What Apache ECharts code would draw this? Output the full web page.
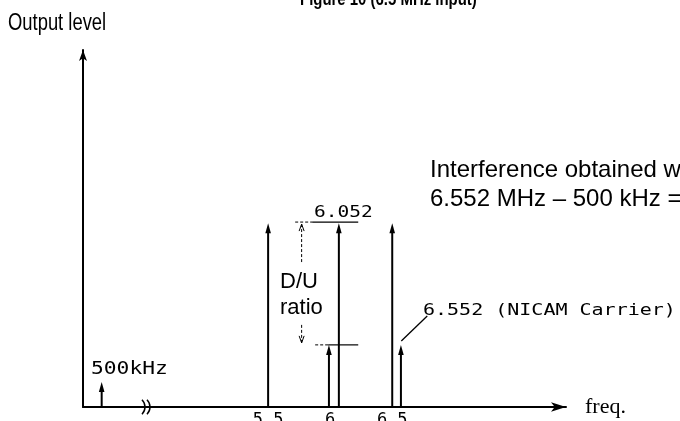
<!DOCTYPE html>
<html><head><meta charset="utf-8">
<script src="https://cdn.jsdelivr.net/npm/echarts@6/dist/echarts.min.js"></script>
<style>html,body{margin:0;padding:0;background:#fff}#c{width:680px;height:421px}</style>
</head><body><div id="c"></div>
<script>
// ---- data ----
const carrierFreqs = [5.5, 6.07, 6.5];      // MHz, tall carriers
const carrierLevels = [51.5, 51.5, 51.5];   // relative output level
const sideFreqs = [5.99, 6.57];             // MHz, small components
const sideLevels = [17.4, 17.4];
const lowFreqs = [0.5];                     // MHz (500 kHz)
const lowLevels = [7];
const tickValues = [5.5, 6, 6.5];           // labelled ticks

// ---- annotation anchors (in data units) ----
const duX = 5.77;
const duGap = [23, 40.6];
const extTopX = [5.718, 5.855, 6.226];
const extBotX = [5.879, 5.984, 6.226];
const topLevel = 51.8;
const leader = [[6.782, 25.5], [6.573, 18.5]];

const chart = echarts.init(document.getElementById('c'), null, {renderer: 'canvas'});
const BLACK = '#000';

function arrowItem(params, api) {
  const x = api.value(0), v = api.value(1);
  const base = api.coord([x, 0]);
  const tip = api.coord([x, v]);
  const hw = 2.8, hh = 10;
  return {type: 'group', children: [
    {type: 'line', shape: {x1: base[0], y1: base[1], x2: tip[0], y2: tip[1] + hh - 1}, style: {stroke: BLACK, lineWidth: 2}},
    {type: 'polygon', shape: {points: [[tip[0], tip[1]], [tip[0] - hw, tip[1] + hh], [tip[0] + hw, tip[1] + hh]]}, style: {fill: BLACK}}
  ]};
}

function annotItem(params, api) {
  const c = (x, y) => api.coord([x, y]);
  const small = sideLevels[0];
  const a = c(duX, topLevel), b = c(duX, duGap[1]), d = c(duX, duGap[0]), e = c(duX, small);
  const dash = {stroke: BLACK, lineWidth: 1, lineDash: [3, 2]};
  const solid = {stroke: BLACK, lineWidth: 1.2};
  const t1 = c(extTopX[0], topLevel), t2 = c(extTopX[1], topLevel), t3 = c(extTopX[2], topLevel);
  const b1 = c(extBotX[0], small), b2 = c(extBotX[1], small), b3 = c(extBotX[2], small);
  const l1 = c(leader[0][0], leader[0][1]), l2 = c(leader[1][0], leader[1][1]);
  return {type: 'group', children: [
    {type: 'line', shape: {x1: a[0], y1: a[1] + 2, x2: b[0], y2: b[1]}, style: dash},
    {type: 'line', shape: {x1: d[0], y1: d[1], x2: e[0], y2: e[1] - 2}, style: dash},
    {type: 'polyline', shape: {points: [[a[0] - 2.5, a[1] + 9], [a[0], a[1] + 2], [a[0] + 2.5, a[1] + 9]]}, style: {stroke: BLACK, lineWidth: 1, fill: null}},
    {type: 'polyline', shape: {points: [[e[0] - 2.5, e[1] - 9], [e[0], e[1] - 2], [e[0] + 2.5, e[1] - 9]]}, style: {stroke: BLACK, lineWidth: 1, fill: null}},
    {type: 'line', shape: {x1: t1[0], y1: t1[1], x2: t2[0], y2: t2[1]}, style: dash},
    {type: 'line', shape: {x1: t2[0], y1: t2[1], x2: t3[0], y2: t3[1]}, style: solid},
    {type: 'line', shape: {x1: b1[0], y1: b1[1], x2: b2[0], y2: b2[1]}, style: dash},
    {type: 'line', shape: {x1: b2[0], y1: b2[1], x2: b3[0], y2: b3[1]}, style: solid},
    {type: 'line', shape: {x1: l1[0], y1: l1[1], x2: l2[0], y2: l2[1]}, style: {stroke: BLACK, lineWidth: 1.3}}
  ]};
}

const SANS = '"Liberation Sans", Arial, Helvetica, sans-serif';
const MONO = '"DejaVu Sans Mono", monospace';
function txt(x, y, text, font, scaleX) {
  return {type: 'text', x: x, y: y, scaleX: scaleX || 1, silent: true,
    style: {text: text, font: font, fill: BLACK, textAlign: 'left', textVerticalAlign: 'middle'}};
}

const option = {
  animation: false,
  backgroundColor: '#fff',
  grid: [
    {left: 83, top: 50, width: 61, bottom: 14, outerBoundsMode: 'none', containLabel: false},
    {left: 144, top: 50, width: 422, bottom: 14, outerBoundsMode: 'none', containLabel: false}
  ],
  xAxis: [
    {gridIndex: 0, type: 'value', min: 0.35, max: 0.84,
      axisLine: {show: true, onZero: false, lineStyle: {color: BLACK, width: 2}},
      axisTick: {show: false}, axisLabel: {show: false}, splitLine: {show: false}},
    {gridIndex: 1, type: 'value', min: 4.5, max: 7.9, interval: 0.5,
      name: 'freq.', nameLocation: 'end', nameGap: 19,
      nameTextStyle: {fontFamily: '"Liberation Serif", "DejaVu Serif", serif', fontSize: 22, color: BLACK, verticalAlign: 'middle'},
      axisLine: {show: true, onZero: false, symbol: ['none', 'arrow'], symbolSize: [7, 15], lineStyle: {color: BLACK, width: 2}},
      axisTick: {show: false}, splitLine: {show: false},
      axisLabel: {show: true, margin: 5, color: BLACK, fontFamily: MONO, fontSize: 17,
        showMinLabel: true, showMaxLabel: false,
        formatter: function (v) { return tickValues.some(t => Math.abs(t - v) < 1e-6) ? String(+v) : ''; }}}
  ],
  yAxis: [
    {gridIndex: 0, type: 'value', min: 0, max: 100,
      axisLine: {show: true, onZero: false, symbol: ['none', 'arrow'], symbolSize: [6, 11], lineStyle: {color: BLACK, width: 2}},
      axisTick: {show: false}, axisLabel: {show: false}, splitLine: {show: false}},
    {gridIndex: 1, type: 'value', min: 0, max: 100, show: false, splitLine: {show: false}}
  ],
  series: [
    {type: 'custom', name: '500 kHz', xAxisIndex: 0, yAxisIndex: 0, renderItem: arrowItem, silent: true,
      data: lowFreqs.map((f, i) => [f, lowLevels[i]])},
    {type: 'custom', name: 'carriers', xAxisIndex: 1, yAxisIndex: 1, renderItem: arrowItem, silent: true,
      data: carrierFreqs.map((f, i) => [f, carrierLevels[i]])},
    {type: 'custom', name: 'components', xAxisIndex: 1, yAxisIndex: 1, renderItem: arrowItem, silent: true,
      data: sideFreqs.map((f, i) => [f, sideLevels[i]])},
    {type: 'custom', name: 'annotation', xAxisIndex: 1, yAxisIndex: 1, renderItem: annotItem, silent: true,
      data: [[duX, topLevel]]}
  ],
  graphic: [
    txt(300, 0, 'Figure 10 (6.5 MHz input)', 'bold 18px ' + SANS, 0.83),
    txt(8, 24, 'Output level', '23px ' + SANS, 0.8),
    txt(430, 170, 'Interference obtained with', '24px ' + SANS),
    txt(430, 199, '6.552 MHz \u2013 500 kHz = 6.052 MHz', '24px ' + SANS),
    txt(314, 213, '6.052', '15px ' + MONO, 1.3),
    txt(280, 282, 'D/U', '22px ' + SANS),
    txt(280, 308, 'ratio', '22px ' + SANS),
    txt(423, 311, '6.552 (NICAM Carrier)', '16px ' + MONO, 1.25),
    txt(91, 370, '500kHz', '17px ' + MONO, 1.25),
    {type: 'arc', silent: true, shape: {cx: 135, cy: 407, r: 10, startAngle: -0.8, endAngle: 0.8, clockwise: true}, style: {stroke: BLACK, lineWidth: 1.5, fill: null}},
    {type: 'arc', silent: true, shape: {cx: 140, cy: 407, r: 10, startAngle: -0.8, endAngle: 0.8, clockwise: true}, style: {stroke: BLACK, lineWidth: 1.5, fill: null}}
  ]
};
chart.setOption(option);
</script>
</body></html>
